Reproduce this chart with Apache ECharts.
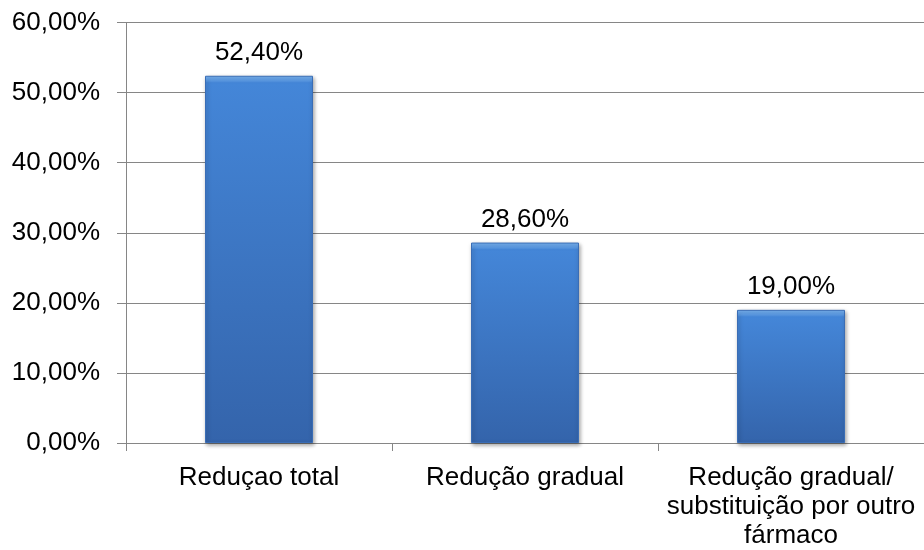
<!DOCTYPE html>
<html>
<head>
<meta charset="utf-8">
<script src="https://cdn.jsdelivr.net/npm/echarts@6/dist/echarts.min.js"></script>
<style>
    html, body { margin: 0; padding: 0; background: #fff; }
    #chart { width: 924px; height: 550px; }
</style>
</head>
<body>
<div id="chart"></div>
<script>
    // categorias e valores (percentual)
    const categories = [
        "Reduçao total",
        "Redução gradual",
        "Redução gradual/\nsubstituição por outro\nfármaco"
    ];
    const values = [52.4, 28.6, 19.0];
    const yTicks = [0, 10, 20, 30, 40, 50, 60];

    const pct = v => v.toFixed(2).replace(".", ",") + "%";

    // altura do gráfico em px, para o chanfro do topo ter ~5px
    const plotHeight = 421;

    const barStyle = v => {
        const h = (v / yTicks[yTicks.length - 1]) * plotHeight;
        const b = Math.min(5 / h, 0.1);
        return {
            color: {
                type: "linear",
                x: 0, y: 0, x2: 0, y2: 1,
                colorStops: [
                    { offset: 0, color: "#7ab4f2" },
                    { offset: b, color: "#5b9be6" },
                    { offset: b * 1.4, color: "#4486d8" },
                    { offset: 1, color: "#3464ab" }
                ]
            },
            borderColor: "#3a6db5",
            borderWidth: 1,
            shadowColor: "rgba(0,0,0,0.35)",
            shadowBlur: 4,
            shadowOffsetX: 1,
            shadowOffsetY: 2
        };
    };

    const chart = echarts.init(document.getElementById("chart"));
    chart.setOption({
        animation: false,
        textStyle: { fontFamily: "Liberation Sans, Arial, sans-serif" },
        grid: { left: 126, right: 0, top: 22.5, bottom: 106.5 },
        xAxis: {
            type: "category",
            data: categories,
            axisLine: { lineStyle: { color: "#868686", width: 1 } },
            axisTick: { show: true, length: 8, lineStyle: { color: "#868686" } },
            axisLabel: {
                color: "#000",
                fontSize: 26,
                lineHeight: 29,
                margin: 20,
                interval: 0
            }
        },
        yAxis: {
            type: "value",
            min: yTicks[0],
            max: yTicks[yTicks.length - 1],
            interval: 10,
            axisLine: { show: true, lineStyle: { color: "#868686" } },
            axisTick: { show: true, length: 9, lineStyle: { color: "#868686" } },
            splitLine: { lineStyle: { color: "#868686", width: 1 } },
            axisLabel: {
                color: "#000",
                fontSize: 26,
                margin: 26,
                formatter: v => pct(v)
            }
        },
        series: [
            {
                type: "bar",
                data: values.map(v => ({ value: v, itemStyle: barStyle(v) })),
                barWidth: 108,
                label: {
                    show: true,
                    position: "top",
                    distance: 10,
                    color: "#000",
                    fontSize: 26,
                    formatter: p => pct(p.value)
                }
            }
        ]
    });
</script>
</body>
</html>
